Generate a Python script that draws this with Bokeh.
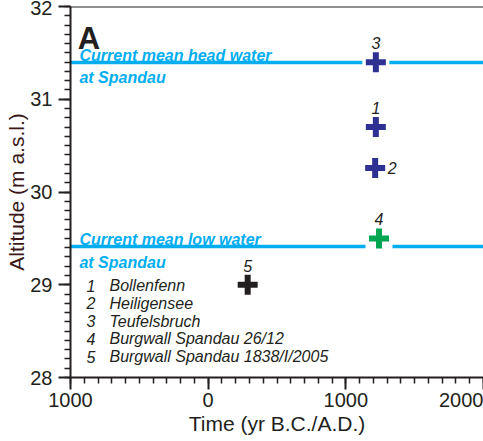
from bokeh.plotting import figure
from bokeh.models import SingleIntervalTicker, CustomJSTickFormatter, Span, ColumnDataSource, Range1d
from bokeh.core.properties import value
from bokeh.embed import file_html
from bokeh.resources import INLINE

# ---- data ----
site_ids = ["1", "2", "3", "4", "5"]
site_names = ["Bollenfenn", "Heiligensee", "Teufelsbruch",
              "Burgwall Spandau 26/12", "Burgwall Spandau 1838/I/2005"]
years = [1218, 1213, 1218, 1241, 287]
altitudes = [30.70, 30.26, 31.40, 29.50, 29.00]
marker_colors = ["#2E3192", "#2E3192", "#2E3192", "#00A651", "#231F20"]
label_side = ["above", "right", "above", "above", "above"]

water_levels = [31.40, 29.41]
water_label_line1 = ["Current mean head water", "Current mean low water"]
water_label_line2 = ["at Spandau", "at Spandau"]

x_start, x_end = -1000, 2000
y_start, y_end = 28, 32
panel_letter = "A"

FONT = "Liberation Sans"
DARK = "#231F20"
CYAN = "#00AEEF"

p = figure(width=483, height=441, output_backend="svg", toolbar_location=None,
           x_range=Range1d(x_start, x_end), y_range=Range1d(y_start, y_end),
           min_border_left=70, min_border_right=0, min_border_top=6, min_border_bottom=64)
p.outline_line_color = None
p.grid.grid_line_color = None
p.background_fill_color = "white"
p.border_fill_color = "white"

# axes
p.xaxis.ticker = SingleIntervalTicker(interval=1000, num_minor_ticks=10)
p.yaxis.ticker = SingleIntervalTicker(interval=1, num_minor_ticks=10)
p.xaxis.formatter = CustomJSTickFormatter(code="return Math.abs(tick).toFixed(0);")
p.yaxis.formatter = CustomJSTickFormatter(code="return tick.toFixed(0);")
for ax in (p.xaxis, p.yaxis):
    ax.axis_line_width = 2
    ax.axis_line_color = DARK
    ax.major_tick_line_color = DARK
    ax.minor_tick_line_color = DARK
    ax.major_tick_line_width = 2
    ax.minor_tick_line_width = 1.5
    ax.major_tick_in = 0
    ax.major_tick_out = 12
    ax.minor_tick_in = 0
    ax.minor_tick_out = 6
    ax.major_label_text_font = FONT
    ax.major_label_text_font_size = "20px"
    ax.major_label_text_color = DARK
    ax.axis_label_text_font = FONT
    ax.axis_label_text_font_size = "21px"
    ax.axis_label_text_font_style = "normal"
p.xaxis.axis_label = "Time (yr B.C./A.D.)"
p.yaxis.axis_label = "Altitude (m a.s.l.)"
p.xaxis.axis_label_text_color = DARK
p.yaxis.axis_label_text_color = "#3a1818"
p.xaxis.major_label_standoff = 3
p.xaxis.axis_label_standoff = 2
p.yaxis.major_label_standoff = 6
p.yaxis.axis_label_standoff = -1

# top frame line
p.add_layout(Span(location=y_end, dimension="width", line_color=DARK, line_width=2))

# water levels
p.hspan(y=water_levels, line_color=CYAN, line_width=3.5)
wsrc = ColumnDataSource(dict(y=water_levels, t1=water_label_line1, t2=water_label_line2,
                             x=[x_start + 65] * len(water_levels)))
p.text(x="x", y="y", text="t1", source=wsrc, y_offset=-7,
       text_font=value(FONT), text_font_size="16px", text_font_style="bold italic",
       text_color=CYAN, text_baseline="alphabetic", text_align="left")
p.text(x="x", y="y", text="t2", source=wsrc, y_offset=15.5,
       text_font=value(FONT), text_font_size="16px", text_font_style="bold italic",
       text_color=CYAN, text_baseline="alphabetic", text_align="left")

# points
src = ColumnDataSource(dict(
    x=years, y=altitudes, c=marker_colors, id=site_ids,
    xo=[17 if s == "right" else 0 for s in label_side],
    yo=[0 if s == "right" else -19 for s in label_side],
))
p.scatter(x="x", y="y", source=src, marker="square", size=27,
          fill_color="white", line_color=None)
p.scatter(x="x", y="y", source=src, marker="cross", size=20,
          line_color="c", line_width=6)
p.text(x="x", y="y", text="id", source=src, x_offset="xo", y_offset="yo",
       text_font=value(FONT), text_font_size="16px", text_font_style="italic",
       text_color=DARK, text_align="center", text_baseline="middle")

# legend list
n = len(site_ids)
leg = ColumnDataSource(dict(
    xn=[x_start + 116] * n, xs=[x_start + 283] * n,
    y=[28.99 - 0.191 * i for i in range(n)],
    id=site_ids, name=site_names,
))
p.text(x="xn", y="y", text="id", source=leg,
       text_font=value(FONT), text_font_size="16px", text_font_style="italic",
       text_color=DARK, text_align="left", text_baseline="middle")
p.text(x="xs", y="y", text="name", source=leg,
       text_font=value(FONT), text_font_size="16px", text_font_style="italic",
       text_color=DARK, text_align="left", text_baseline="middle")

# panel letter
p.text(x=[x_start + 53], y=[31.65], text=[panel_letter],
       text_font=value(FONT), text_font_size="31px", text_font_style="bold",
       text_color=DARK, text_align="left", text_baseline="alphabetic")

open("out.html", "w").write(file_html(p, INLINE))
